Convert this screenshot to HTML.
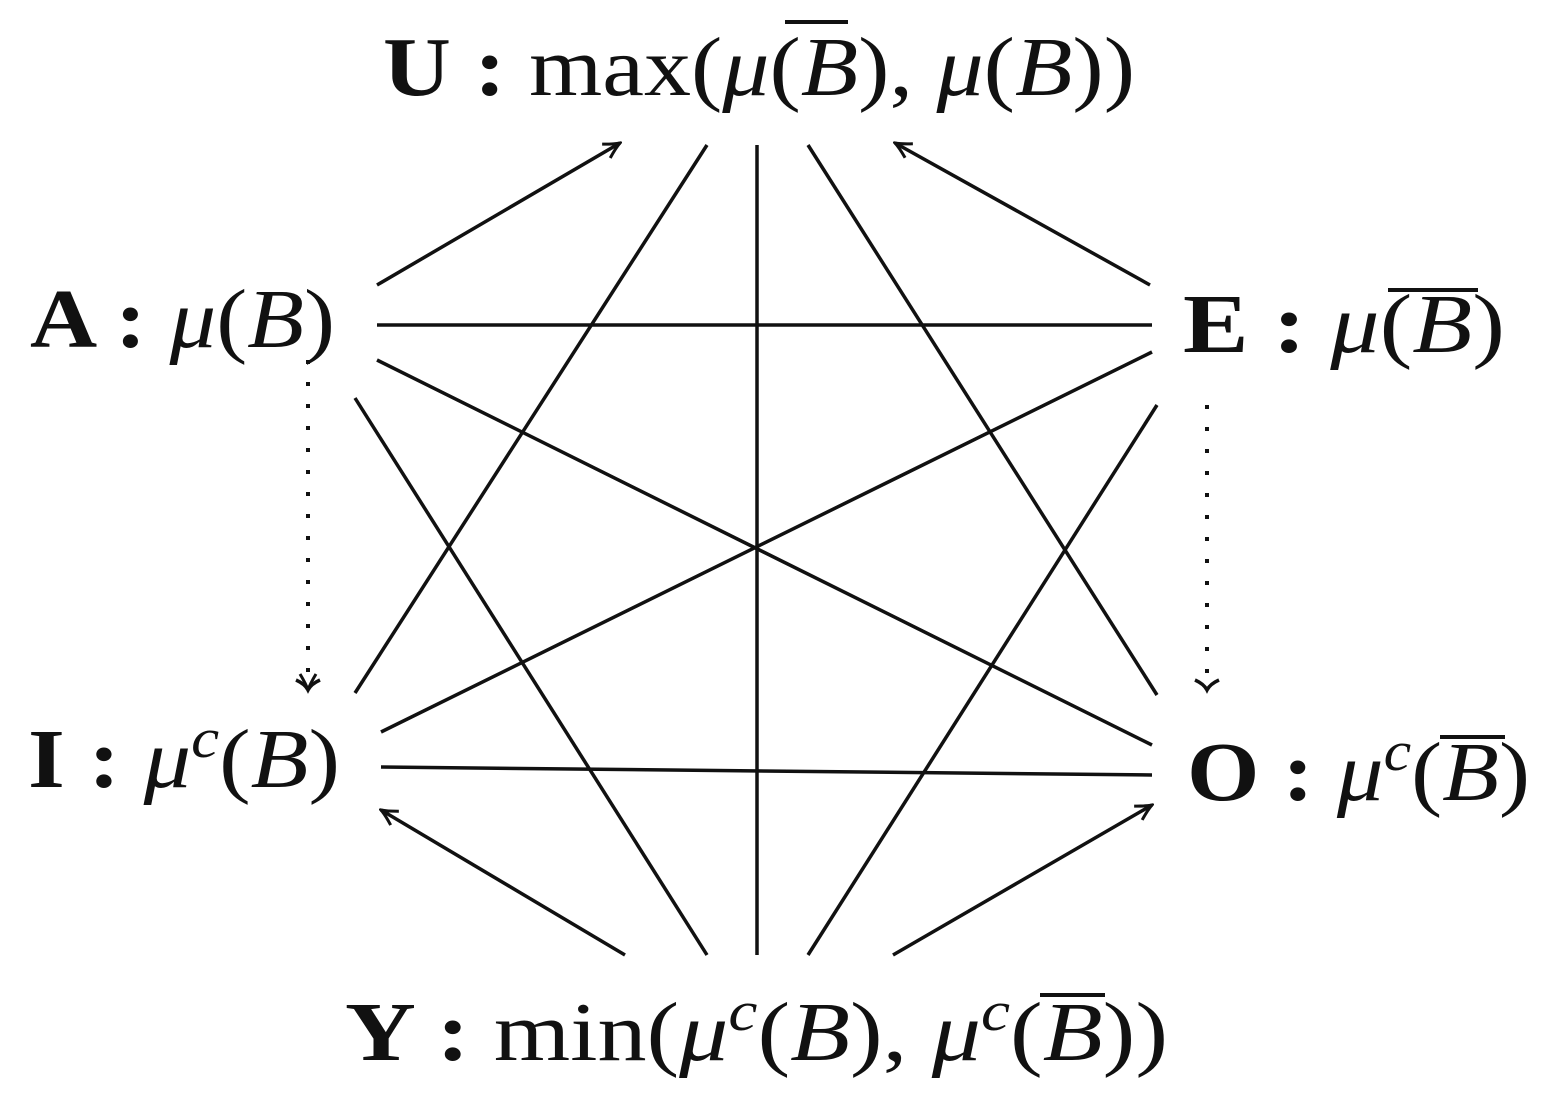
<!DOCTYPE html>
<html><head><meta charset="utf-8"><style>html,body{margin:0;padding:0;background:#fff}svg{display:block}</style></head><body>
<svg width="1554" height="1102" viewBox="0 0 1554 1102" xmlns="http://www.w3.org/2000/svg">
<defs>
<marker id="ar" viewBox="0 0 20 20" refX="18" refY="10" markerWidth="20" markerHeight="20" markerUnits="userSpaceOnUse" orient="auto">
<path d="M2,2 Q12,8 18,10 Q12,12 2,18" fill="none" stroke="#111" stroke-width="3"/>
</marker>
</defs>
<g stroke="#111" stroke-width="3.5" fill="none">
<line x1="377" y1="285" x2="620" y2="143" marker-end="url(#ar)"/>
<line x1="1150" y1="285" x2="895" y2="143" marker-end="url(#ar)"/>
<line x1="625" y1="955" x2="381" y2="810" marker-end="url(#ar)"/>
<line x1="893" y1="955" x2="1152" y2="805" marker-end="url(#ar)"/>
<line x1="377" y1="325" x2="1152" y2="325"/>
<line x1="377" y1="360" x2="1152" y2="745"/>
<line x1="355" y1="398" x2="707" y2="955"/>
<line x1="707" y1="145" x2="355" y2="693"/>
<line x1="757" y1="145" x2="757" y2="955"/>
<line x1="808" y1="145" x2="1157" y2="695"/>
<line x1="1152" y1="352" x2="381" y2="732"/>
<line x1="1157" y1="405" x2="808" y2="955"/>
<line x1="381" y1="767" x2="1152" y2="775"/>
</g>
<g stroke="#111" stroke-width="4" fill="none">
<line x1="308" y1="360" x2="308" y2="682" stroke-dasharray="4,18"/>
<line x1="1207" y1="405" x2="1207" y2="682" stroke-dasharray="4,18"/>
</g>
<g stroke="#111" stroke-width="3.5" fill="none">
<line x1="308" y1="670" x2="308" y2="690" stroke="none" marker-end="url(#ar)"/>
<path d="M296,680 Q305,684 308,690 Q311,684 320,680"/>
<path d="M1195,680 Q1204,684 1207,690 Q1210,684 1219,680"/>
</g>
<g font-family="'Liberation Serif',serif" font-size="84" fill="#111">
<text x="383" y="95" textLength="752" lengthAdjust="spacingAndGlyphs"><tspan font-weight="bold">U :</tspan> max(<tspan font-style="italic">μ</tspan>(<tspan font-style="italic">B</tspan>), <tspan font-style="italic">μ</tspan>(<tspan font-style="italic">B</tspan>))</text>
<text x="30" y="347" textLength="305" lengthAdjust="spacingAndGlyphs"><tspan font-weight="bold">A :</tspan> <tspan font-style="italic">μ</tspan>(<tspan font-style="italic">B</tspan>)</text>
<text x="1183" y="352" textLength="322" lengthAdjust="spacingAndGlyphs"><tspan font-weight="bold">E :</tspan>  <tspan font-style="italic">μ</tspan>(<tspan font-style="italic">B</tspan>)</text>
<text x="28" y="787" textLength="312" lengthAdjust="spacingAndGlyphs"><tspan font-weight="bold">I :</tspan> <tspan font-style="italic">μ<tspan font-size="56" dy="-30">c</tspan></tspan><tspan dy="30">(</tspan><tspan font-style="italic">B</tspan>)</text>
<text x="1187" y="800" textLength="343" lengthAdjust="spacingAndGlyphs"><tspan font-weight="bold">O :</tspan> <tspan font-style="italic">μ<tspan font-size="56" dy="-30">c</tspan></tspan><tspan dy="30">(</tspan><tspan font-style="italic">B</tspan>)</text>
<text x="345" y="1060" textLength="823" lengthAdjust="spacingAndGlyphs"><tspan font-weight="bold">Y :</tspan>  min(<tspan font-style="italic">μ<tspan font-size="56" dy="-30">c</tspan></tspan><tspan dy="30">(</tspan><tspan font-style="italic">B</tspan>), <tspan font-style="italic">μ<tspan font-size="56" dy="-30">c</tspan></tspan><tspan dy="30">(</tspan><tspan font-style="italic">B</tspan>))</text>
</g>
<g stroke="#111" stroke-width="4">
<line x1="785" y1="22" x2="848" y2="22"/>
<line x1="1388" y1="290" x2="1478" y2="290"/>
<line x1="1440" y1="737" x2="1505" y2="737"/>
<line x1="1040" y1="995" x2="1105" y2="995"/>
</g>
</svg>
</body></html>
